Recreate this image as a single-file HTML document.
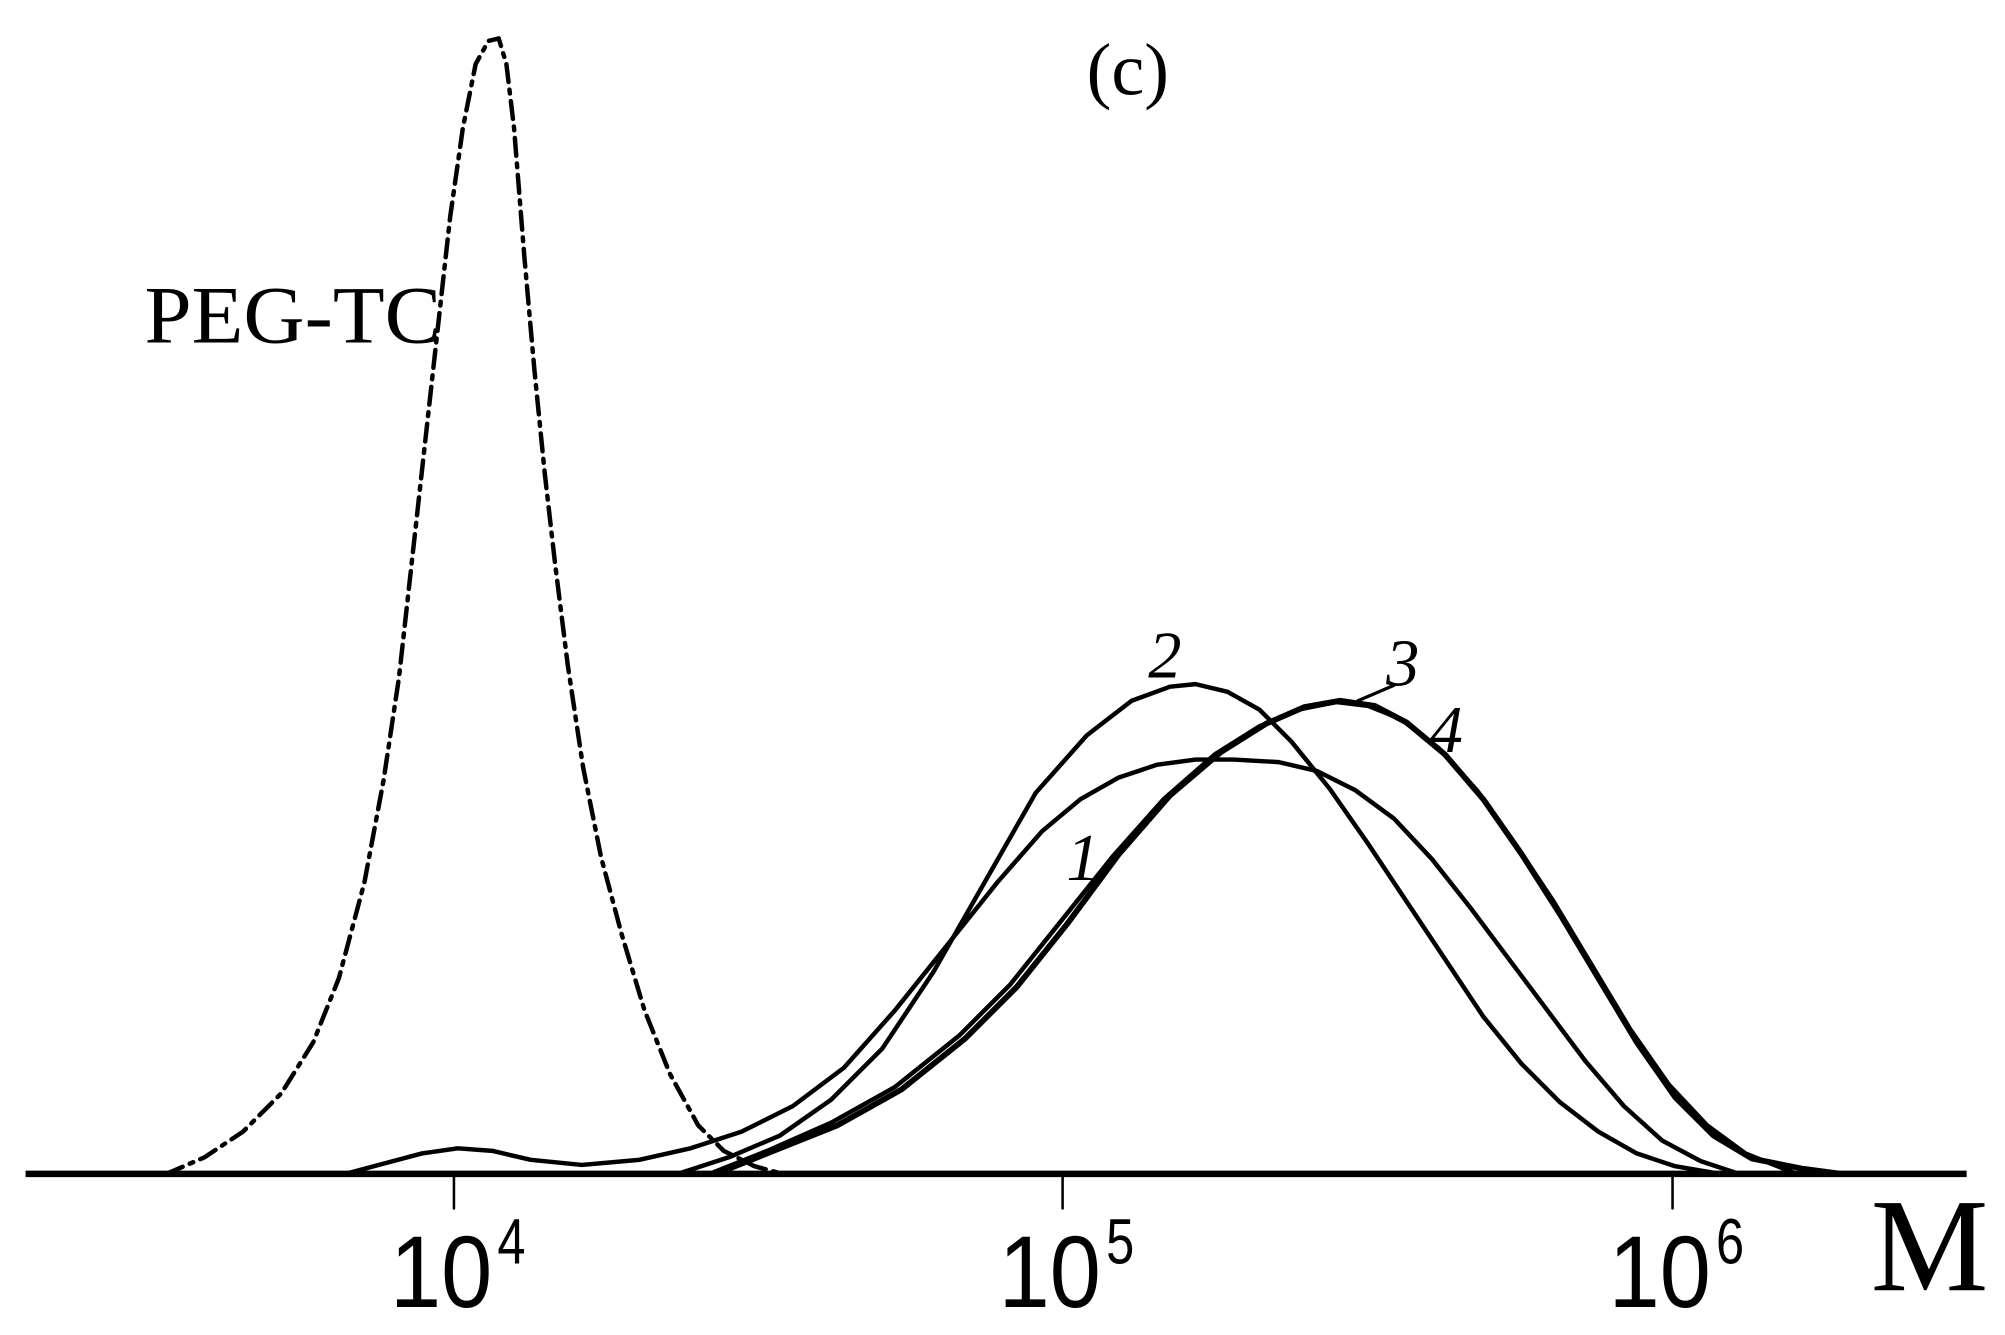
<!DOCTYPE html>
<html><head><meta charset="utf-8"><style>
html,body{margin:0;padding:0;background:#fff;}
svg{display:block;}
text{font-family:"Liberation Serif",serif;fill:#000;}
text.s{font-family:"Liberation Sans",sans-serif;}
</style></head><body>
<svg width="2005" height="1335" viewBox="0 0 1568 1044" preserveAspectRatio="none">
<g fill="none" stroke="#000" stroke-linejoin="round" stroke-linecap="round">
<polyline stroke-width="3.5" stroke-dasharray="14,6,3,6" points="130,918 160,905 190,885 220,855 245,815 265,765 285,690 300,610 312,530 322,440 332,350 342,260 352,170 362,100 372,50 382,32 390,30 396,50 402,100 410,200 418,290 426,370 434,440 444,520 456,600 470,670 486,730 504,790 524,840 546,880 566,900 590,912 612,918"/>
<polyline stroke-width="3.5" points="270,918 300,910 330,902 358,898 385,900 415,907 455,911 500,907 540,898 580,885 620,865 660,835 700,790 740,740 780,690 815,650 845,625 875,608 905,598 935,594 965,594 1000,596 1030,603 1060,618 1090,640 1120,672 1150,710 1180,750 1210,790 1240,830 1270,865 1300,892 1330,908 1360,918"/>
<polyline stroke-width="3.5" points="530,918 570,905 610,888 650,860 690,820 730,760 770,690 810,620 850,575 885,548 915,537 935,535 960,541 985,555 1010,580 1040,617 1070,660 1100,705 1130,750 1160,795 1190,832 1220,862 1250,885 1280,902 1310,912 1345,918"/>
<polyline stroke-width="3.5" points="555,918 600,900 650,878 700,850 750,810 790,770 830,720 870,670 910,625 950,590 985,568 1015,555 1045,549 1070,552 1095,562 1125,585 1155,618 1185,660 1215,705 1245,755 1275,805 1305,848 1335,880 1365,902 1405,918"/>
<polyline stroke-width="4.5" points="560,918 605,900 655,880 705,852 755,812 795,772 835,722 875,668 915,622 955,588 990,566 1020,553 1048,548 1075,552 1100,565 1130,590 1160,625 1190,668 1220,715 1250,765 1280,815 1310,858 1340,888 1370,906 1410,914 1440,918"/>
<line x1="1062" y1="548" x2="1090" y2="536" stroke-width="2.5"/>
<line x1="20" y1="918" x2="1538" y2="918" stroke-width="5" stroke-linecap="butt"/>
<line x1="355" y1="920" x2="355" y2="945" stroke-width="2"/>
<line x1="831" y1="920" x2="831" y2="945" stroke-width="2"/>
<line x1="1308" y1="920" x2="1308" y2="945" stroke-width="2"/>
</g>
<text x="882" y="74" font-size="58" text-anchor="middle">(c)</text>
<text x="113" y="268" font-size="64" textLength="232" lengthAdjust="spacingAndGlyphs">PEG-TC</text>
<text x="898" y="530" font-size="52" font-style="italic">2</text>
<text x="1084" y="536" font-size="52" font-style="italic">3</text>
<text x="1118" y="588" font-size="52" font-style="italic">4</text>
<text x="834" y="688" font-size="52" font-style="italic">1</text>
<text class="s" x="305" y="1022" font-size="80" textLength="80" lengthAdjust="spacingAndGlyphs">10</text>
<text class="s" x="389" y="988" font-size="50" textLength="22" lengthAdjust="spacingAndGlyphs">4</text>
<text class="s" x="781" y="1022" font-size="80" textLength="80" lengthAdjust="spacingAndGlyphs">10</text>
<text class="s" x="865" y="988" font-size="50" textLength="22" lengthAdjust="spacingAndGlyphs">5</text>
<text class="s" x="1258" y="1022" font-size="80" textLength="80" lengthAdjust="spacingAndGlyphs">10</text>
<text class="s" x="1342" y="988" font-size="50" textLength="22" lengthAdjust="spacingAndGlyphs">6</text>
<text x="1463" y="1009" font-size="104" textLength="92" lengthAdjust="spacingAndGlyphs">M</text>
</svg>
</body></html>
